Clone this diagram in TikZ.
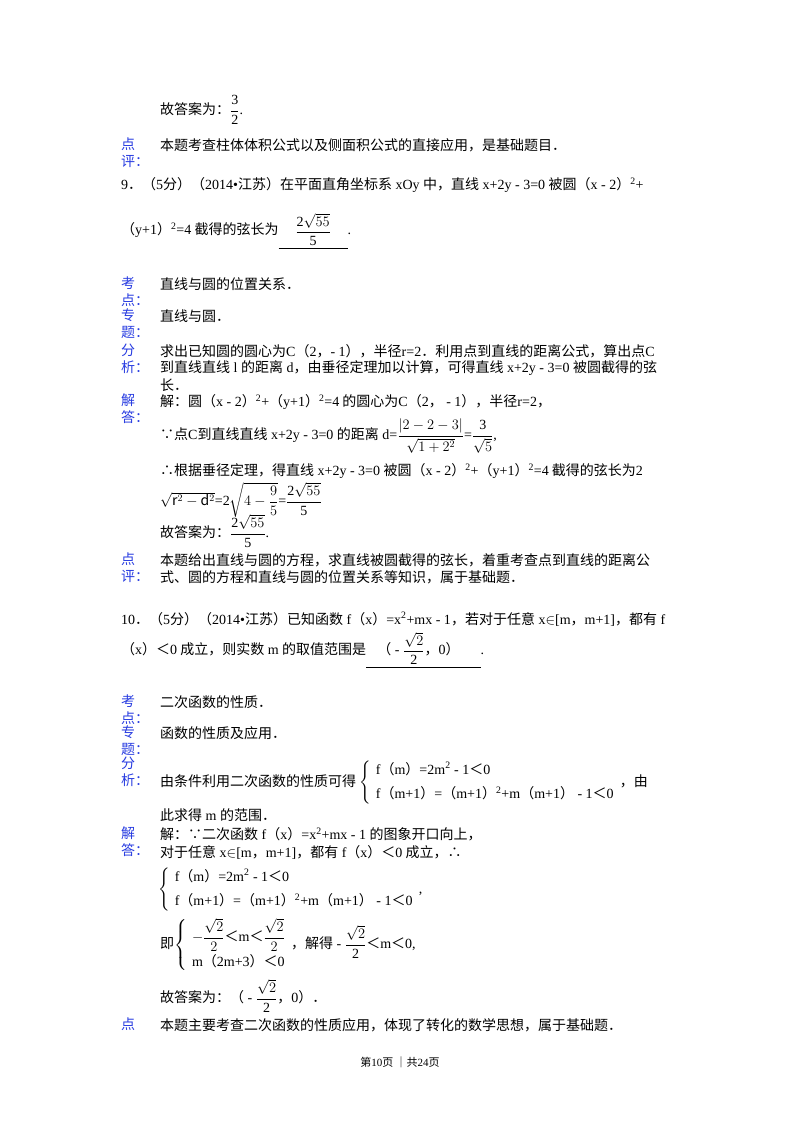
\documentclass[tikz,border=0pt]{standalone}
\usepackage{amsmath}
\usepackage{fontspec}
\setmainfont{Noto Sans CJK SC}
\newfontfamily\enfont{Liberation Serif}
\newfontfamily\zhfont{Noto Sans CJK SC}
\newcommand\en[1]{{\enfont #1}}
\newcommand\z[1]{{\zhfont #1}}
\newcommand\lp{\z{（}}
\newcommand\rp{\z{）}}
\newcommand\zlt{\z{＜}}
\newcommand\zc{\z{，}}
\newcommand\ff[2]{\ensuremath{\dfrac{\text{\en{#1}}}{\text{\en{#2}}}}}
\definecolor{lab}{RGB}{40,60,225}
\begin{document}
\begin{tikzpicture}[x=1pt,y=-1pt,
  t/.style={anchor=west,inner sep=0pt,font=\fontsize{14}{16}\selectfont},
  lb/.style={anchor=north west,inner sep=0pt,text=lab,align=left,font=\fontsize{14}{17}\selectfont}]
\useasboundingbox[fill=white] (0,0) rectangle (800,1132);
% top
\node[t] (a1) at (160,110) {故答案为：\ff{3}{2}\en{.}};
\node[lb] (l1) at (121,138) {点\\评：};
\node[t] (b1) at (160,145) {本题考查柱体体积公式以及侧面积公式的直接应用，是基础题目．};
% problem 9
\node[t] (p9a) at (121,185) {\en{9}．（\en{5}分）（\en{2014•}江苏）在平面直角坐标系\en{ xOy }中，直线\en{ x+2y - 3=0 }被圆（\en{x - 2}）\textsuperscript{\en{2}}\en{+}};
\node[t] (p9b) at (121,231) {（\en{y+1}）\textsuperscript{\en{2}}\en{=4} 截得的弦长为\en{\underline{\hspace{1.2em}\raisebox{-1pt}{\ff{2$\sqrt{55}$}{5}}\hspace{1.2em}}.}};
\node[lb] (l2) at (121,277) {考\\点：};
\node[t] (b2) at (160,284) {直线与圆的位置关系．};
\node[lb] (l3) at (121,309) {专\\题：};
\node[t] (b3) at (160,316) {直线与圆．};
\node[lb] (l4) at (121,344) {分\\析：};
\node[t] (b4a) at (160,351) {求出已知圆的圆心为\en{C}（\en{2}，\en{- 1}），半径\en{r=2}．利用点到直线的距离公式，算出点\en{C}};
\node[t] (b4b) at (160,368) {到直线直线\en{ l }的距离\en{ d}，由垂径定理加以计算，可得直线\en{ x+2y - 3=0 }被圆截得的弦};
\node[t] (b4c) at (160,385) {长．};
\node[lb] (l5) at (121,394) {解\\答：};
\node[t] (s1) at (160,402) {解：圆（\en{x - 2}）\textsuperscript{\en{2}}\en{+}（\en{y+1}）\textsuperscript{\en{2}}\en{=4} 的圆心为\en{C}（\en{2}，\en{ - 1}），半径\en{r=2}，};
\node[t] (s2) at (160,436) {∵点\en{C}到直线直线\en{ x+2y - 3=0 }的距离\en{ d=}\ff{$|2-2-3|$}{$\sqrt{1+2^2}$}\en{=}\ff{3}{$\sqrt5$}\en{,}};
\node[t] (s3) at (160,471) {∴根据垂径定理，得直线\en{ x+2y - 3=0 }被圆（\en{x - 2}）\textsuperscript{\en{2}}\en{+}（\en{y+1}）\textsuperscript{\en{2}}\en{=4} 截得的弦长为\en{2}};
\node[t] (s4) at (160,500) {\en{$\sqrt{\mathrm{r}^2-\mathrm{d}^2}$=2$\sqrt{4-\dfrac{9}{5}}$=}\ff{2$\sqrt{55}$}{5}};
\node[t] (s5) at (160,531) {故答案为：\ff{2$\sqrt{55}$}{5}\en{.}};
\node[lb] (l6) at (121,553) {点\\评：};
\node[t] (b6a) at (160,560) {本题给出直线与圆的方程，求直线被圆截得的弦长，着重考查点到直线的距离公};
\node[t] (b6b) at (160,577) {式、圆的方程和直线与圆的位置关系等知识，属于基础题．};
% problem 10
\node[t] (p10a) at (121,619) {\en{10}．（\en{5}分）（\en{2014•}江苏）已知函数\en{ f}（\en{x}）\en{=x\textsuperscript{2}+mx - 1}，若对于任意\en{ x$\in$[m}，\en{m+1]}，都有\en{ f}};
\node[t] (p10b) at (121,650) {（\en{x}）＜\en{0} 成立，则实数\en{ m }的取值范围是\en{\underline{\hspace{0.8em}\lp{} - \raisebox{-1pt}{\ff{$\sqrt2$}{2}}\zc{}0\rp\hspace{1.5em}}.}};
\node[lb] (l7) at (121,695) {考\\点：};
\node[t] (b7) at (160,702) {二次函数的性质．};
\node[lb] (l8) at (121,726) {专\\题：};
\node[t] (b8) at (160,733) {函数的性质及应用．};
\node[lb] (l9) at (121,757) {分\\析：};
\node[t] (b9a) at (160,783) {由条件利用二次函数的性质可得 \en{$\left\{\begin{array}{l}\text{f\lp{}m\rp{}=2m\textsuperscript{2} - 1\zlt{}0}\\[8pt]\text{f\lp{}m+1\rp{}=\lp{}m+1\rp\textsuperscript{2}+m\lp{}m+1\rp{} - 1\zlt{}0}\end{array}\right.$}，由};
\node[t] (b9b) at (160,815) {此求得\en{ m }的范围．};
\node[lb] (l10) at (121,827) {解\\答：};
\node[t] (c1) at (160,834) {解：∵二次函数\en{ f}（\en{x}）\en{=x\textsuperscript{2}+mx - 1 }的图象开口向上，};
\node[t] (c2) at (160,852) {对于任意\en{ x$\in$[m}，\en{m+1]}，都有\en{ f}（\en{x}）＜\en{0} 成立，∴};
\node[t] (c3) at (158,890) {\en{$\left\{\begin{array}{l}\text{f\lp{}m\rp{}=2m\textsuperscript{2} - 1\zlt{}0}\\[8pt]\text{f\lp{}m+1\rp{}=\lp{}m+1\rp\textsuperscript{2}+m\lp{}m+1\rp{} - 1\zlt{}0}\end{array}\right.$,}};
\node[t] (c4) at (160,945) {即\en{$\left\{\begin{array}{l}-\dfrac{\sqrt2}{2}\text{\zlt{}m\zlt{}}\dfrac{\sqrt2}{2}\\[8pt]\text{m\lp{}2m+3\rp\zlt{}0}\end{array}\right.$}，解得\en{ - }\ff{$\sqrt2$}{2}＜\en{m}＜\en{0,}};
\node[t] (c5) at (160,996) {故答案为：（\en{ - }\ff{$\sqrt2$}{2}，\en{0}）．};
\node[lb] (l11) at (121,1018) {点};
\node[t] (b11) at (160,1025) {本题主要考查二次函数的性质应用，体现了转化的数学思想，属于基础题．};
\node[anchor=center,inner sep=0pt,font=\fontsize{11}{12}\selectfont] (ft) at (400,1062) {第\en{10}页 ｜共\en{24}页};
\end{tikzpicture}
\end{document}
